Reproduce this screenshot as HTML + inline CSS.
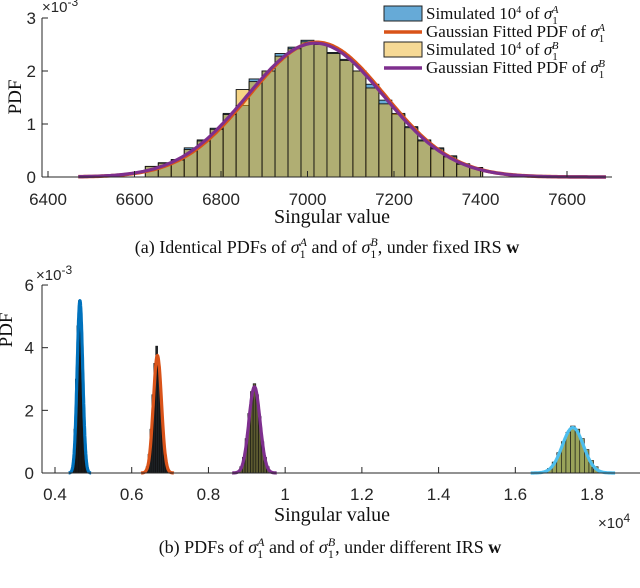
<!DOCTYPE html>
<html><head><meta charset="utf-8"><style>
html,body{margin:0;padding:0;background:#fff;width:640px;height:588px;overflow:hidden}
svg{display:block}
.tk{font-family:"Liberation Sans",sans-serif;font-size:17px;fill:#262626}
.sr{font-family:"Liberation Serif",serif;fill:#111}
</style></head><body>
<svg id="fig" width="640" height="588" viewBox="0 0 640 588" xmlns="http://www.w3.org/2000/svg"></svg>
<script>
// ---- Chart (a) data ----
const aBinCenters=[6640,6670,6700,6730,6760,6790,6820,6850,6880,6910,6940,6970,7000,7030,7060,7090,7120,7150,7180,7210,7240,7270,7300,7330,7360,7390];
const aHistA=[0.2,0.27,0.33,0.55,0.7,0.92,1.2,1.35,1.85,2.0,2.33,2.45,2.58,2.5,2.35,2.22,2.0,1.75,1.45,1.18,0.95,0.7,0.55,0.4,0.25,0.18];
const aHistB=[0.2,0.26,0.32,0.52,0.68,0.9,1.18,1.65,1.8,2.0,2.28,2.42,2.55,2.5,2.33,2.2,2.0,1.68,1.38,1.2,0.93,0.68,0.53,0.38,0.24,0.17];
const aBinWidth=30;
const aFitMean=[7022,7018];
const aFitSigma=[157,158];
const aFitRange=[6470,7690];
const aXTicks=[6400,6600,6800,7000,7200,7400,7600];
const aYTicks=[0,1,2,3];
// ---- Chart (b) data ----
const bMeans=[0.465,0.667,0.92,1.75];
const bSigmas=[0.0073,0.0106,0.0145,0.0275];
const bPeaks=[5.5,3.75,2.75,1.45];
const bBinCenters=[
 [0.447,0.451,0.455,0.459,0.463,0.467,0.471,0.475,0.479,0.483],
 [0.640,0.645,0.650,0.655,0.660,0.665,0.670,0.675,0.680,0.685,0.690,0.695],
 [0.885,0.892,0.899,0.906,0.913,0.920,0.927,0.934,0.941,0.948,0.955],
 [1.69,1.702,1.714,1.726,1.738,1.75,1.762,1.774,1.786,1.798,1.81]];
const bHist=[
 [0.4,1.4,3.0,4.7,5.5,5.0,3.4,1.8,0.7,0.2],
 [0.2,0.6,1.4,2.5,3.5,4.05,3.6,2.7,1.6,0.8,0.3,0.1],
 [0.2,0.5,1.1,1.9,2.6,2.85,2.5,1.8,1.0,0.5,0.2],
 [0.15,0.35,0.65,1.0,1.3,1.5,1.4,1.1,0.75,0.4,0.2]];
const bBinW=[0.004,0.005,0.007,0.012];
const bXTicks=[0.4,0.6,0.8,1,1.2,1.4,1.6,1.8];
const bXTickLabels=["0.4","0.6","0.8","1","1.2","1.4","1.6","1.8"];
const bYTicks=[0,2,4,6];

const NS="http://www.w3.org/2000/svg";
const svg=document.getElementById('fig');
function mk(tag,attrs,parent){const e=document.createElementNS(NS,tag);for(const k in attrs)e.setAttribute(k,attrs[k]);(parent||svg).appendChild(e);return e;}

// ===== Chart (a) =====
const ax=v=>48+(v-6400)*0.4325;
const ay=v=>177-v*53;
const gA=mk('g',{});


aBinCenters.forEach((c,i)=>{
  const r=mk('rect',{x:ax(c-aBinWidth/2),y:ay(aHistA[i]),width:aBinWidth*0.4325,height:ay(0)-ay(aHistA[i]),fill:'#66aad7',stroke:'#111','stroke-width':0.9},gA);
  
  
});
aBinCenters.forEach((c,i)=>{
  const r=mk('rect',{x:ax(c-aBinWidth/2),y:ay(aHistB[i]),width:aBinWidth*0.4325,height:ay(0)-ay(aHistB[i]),fill:'rgba(237,177,32,0.55)',stroke:'#111','stroke-width':0.9},gA);
  
  
});
['#D95319','#7E2F8E'].forEach((col,k)=>{
  let d='';
  for(let v=aFitRange[0];v<=aFitRange[1];v+=5){
    const p=1000/(aFitSigma[k]*Math.sqrt(2*Math.PI))*Math.exp(-0.5*Math.pow((v-aFitMean[k])/aFitSigma[k],2));
    d+=(d?'L':'M')+ax(v).toFixed(1)+','+ay(p).toFixed(1);
  }
  const p=mk('path',{d:d,fill:'none',stroke:col,'stroke-width':k?3.2:3.6,'stroke-linejoin':'round'},gA);
  
  
});
// axes a
const axA=mk('g',{});


mk('line',{x1:42,y1:177,x2:612,y2:177,stroke:'#262626','stroke-width':1},axA);
mk('line',{x1:42,y1:18,x2:42,y2:177,stroke:'#262626','stroke-width':1},axA);
aXTicks.forEach(t=>{
  mk('line',{x1:ax(t),y1:177,x2:ax(t),y2:171,stroke:'#262626'},axA);
  const tx=mk('text',{x:ax(t),y:205,'text-anchor':'middle',class:'tk'},axA);tx.textContent=t;
  
  
});
aYTicks.forEach(t=>{
  mk('line',{x1:42,y1:ay(t),x2:48,y2:ay(t),stroke:'#262626'},axA);
  const tx=mk('text',{x:36,y:ay(t)+6,'text-anchor':'end',class:'tk'},axA);tx.textContent=t;
  
  
});
</script>
<script>
// static text & legend for chart (a)
(function(){
const S=document.getElementById('fig');
S.insertAdjacentHTML('beforeend',`
<text x="42" y="12" class="tk" style="font-size:15px">×10<tspan dy="-6" font-size="12">-3</tspan></text>
<text class="sr" font-size="19" transform="translate(21,97) rotate(-90)" text-anchor="middle">PDF</text>
<text class="sr" font-size="20" x="332" y="223" text-anchor="middle" fill="#333">Singular value</text>
<text class="sr" font-size="18" x="327" y="253" text-anchor="middle">(a) Identical PDFs of <tspan font-style="italic">σ</tspan><tspan font-size="12" dy="5">1</tspan><tspan font-size="12" font-style="italic" dx="-6" dy="-12">A</tspan><tspan dy="7"> and of </tspan><tspan font-style="italic">σ</tspan><tspan font-size="12" dy="5">1</tspan><tspan font-size="12" font-style="italic" dx="-6" dy="-12">B</tspan><tspan dy="7">, under fixed IRS </tspan><tspan font-weight="bold">w</tspan></text>
<g class="sr" font-size="17">
 <g><rect x="384" y="6" width="38" height="15" fill="#66aad7" stroke="#222"/><text x="426" y="19">Simulated 10<tspan font-size="10" dy="-6">4</tspan><tspan dy="6"> of </tspan><tspan font-style="italic">σ</tspan><tspan font-size="11" dy="5">1</tspan><tspan font-size="11" font-style="italic" dx="-6" dy="-11">A</tspan></text></g>
 <g><line x1="384" y1="32" x2="422" y2="32" stroke="#D95319" stroke-width="3.5"/><text x="426" y="37">Gaussian Fitted PDF of <tspan font-style="italic">σ</tspan><tspan font-size="11" dy="5">1</tspan><tspan font-size="11" font-style="italic" dx="-6" dy="-11">A</tspan></text></g>
 <g><rect x="384" y="42" width="38" height="15" fill="#f6d995" stroke="#222"/><text x="426" y="55">Simulated 10<tspan font-size="10" dy="-6">4</tspan><tspan dy="6"> of </tspan><tspan font-style="italic">σ</tspan><tspan font-size="11" dy="5">1</tspan><tspan font-size="11" font-style="italic" dx="-6" dy="-11">B</tspan></text></g>
 <g><line x1="384" y1="68" x2="422" y2="68" stroke="#7E2F8E" stroke-width="3.5"/><text x="426" y="73">Gaussian Fitted PDF of <tspan font-style="italic">σ</tspan><tspan font-size="11" dy="5">1</tspan><tspan font-size="11" font-style="italic" dx="-6" dy="-11">B</tspan></text></g>
</g>
<text x="36" y="280" class="tk" style="font-size:15px">×10<tspan dy="-6" font-size="12">-3</tspan></text>
<text class="sr" font-size="19" transform="translate(12,330) rotate(-90)" text-anchor="middle">PDF</text>
<text class="sr" font-size="20" x="332" y="521" text-anchor="middle" fill="#333">Singular value</text>
<text x="598" y="528" class="tk" style="font-size:15px">×10<tspan dy="-6" font-size="12">4</tspan></text>
<text class="sr" font-size="18" x="330" y="553" text-anchor="middle">(b) PDFs of <tspan font-style="italic">σ</tspan><tspan font-size="12" dy="5">1</tspan><tspan font-size="12" font-style="italic" dx="-6" dy="-12">A</tspan><tspan dy="7"> and of </tspan><tspan font-style="italic">σ</tspan><tspan font-size="12" dy="5">1</tspan><tspan font-size="12" font-style="italic" dx="-6" dy="-12">B</tspan><tspan dy="7">, under different IRS </tspan><tspan font-weight="bold">w</tspan></text>
`);
})();
</script>
<script>
// ===== Chart (b) =====
(function(){
const bx=v=>55+(v-0.4)*383.6;
const by=v=>473-v*31.33;
const g=mk('g',{});


const fills=['#1a1a1a','#1e2226','#5c5a30','#9aa35a'];
const curveCols=['#0072BD','#D95319','#7E2F8E','#4DBEEE'];
bHist.forEach((arr,k)=>{
  arr.forEach((h,i)=>{
    const c=bBinCenters[k][i];
    const r=mk('rect',{x:bx(c-bBinW[k]/2),y:by(h),width:bBinW[k]*383.6,height:by(0)-by(h),fill:fills[k],stroke:'#111','stroke-width':0.6},g);
    
    
  });
});
bMeans.forEach((m,k)=>{
  let d='';
  const s=bSigmas[k];
  for(let v=m-4*s;v<=m+4*s+1e-9;v+=s/20){
    const p=bPeaks[k]*Math.exp(-0.5*Math.pow((v-m)/s,2));
    d+=(d?'L':'M')+bx(v).toFixed(1)+','+by(p).toFixed(1);
  }
  const p=mk('path',{d:d,fill:'none',stroke:curveCols[k],'stroke-width':3.2,'stroke-linejoin':'round'},g);
  
  
});
const axB=mk('g',{});


mk('line',{x1:42,y1:473,x2:640,y2:473,stroke:'#262626'},axB);
mk('line',{x1:42,y1:285,x2:42,y2:473,stroke:'#262626'},axB);
bXTicks.forEach((t,i)=>{
  mk('line',{x1:bx(t),y1:473,x2:bx(t),y2:467,stroke:'#262626'},axB);
  const tx=mk('text',{x:bx(t),y:500,'text-anchor':'middle',class:'tk'},axB);tx.textContent=bXTickLabels[i];
  
  
});
bYTicks.forEach(t=>{
  mk('line',{x1:42,y1:by(t),x2:48,y2:by(t),stroke:'#262626'},axB);
  const tx=mk('text',{x:34,y:by(t)+6,'text-anchor':'end',class:'tk'},axB);tx.textContent=t;
  
  
});
})();
</script>
</body></html>
